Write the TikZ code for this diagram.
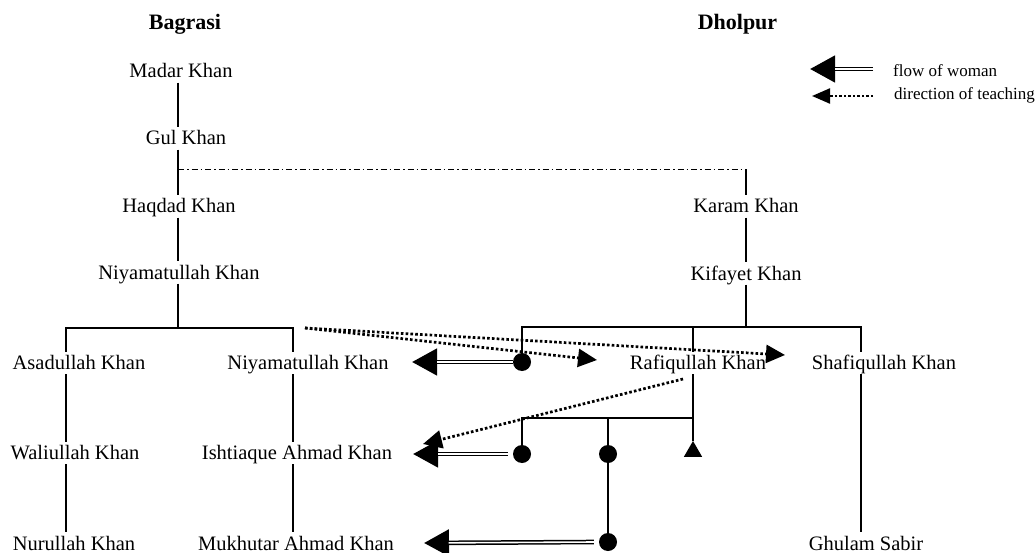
\documentclass[tikz,border=0pt]{standalone}
\usepackage{fontspec}
\setmainfont{Liberation Serif}
\usetikzlibrary{arrows.meta,shapes.geometric,calc}
\begin{document}
\begin{tikzpicture}[x=1pt,y=-1pt,
 nm/.style={anchor=base, inner sep=2.5pt, text height=15pt, text depth=2pt, font=\fontsize{20.5}{24}\selectfont},
 ttl/.style={anchor=base, inner sep=0pt, font=\fontsize{22}{26}\selectfont\bfseries},
 lg/.style={anchor=base west, inner sep=0pt, font=\fontsize{17}{20}\selectfont},
 ln/.style={line width=1.2pt},
 dashdot/.style={line width=1.2pt, dash pattern=on 6pt off 3pt on 1.5pt off 3pt},
 pdot/.style={circle, fill, inner sep=0pt, minimum size=18pt},
 ptri/.style={regular polygon, regular polygon sides=3, fill, inner sep=0pt, minimum size=21pt},
 woman/.style={line width=4.6pt, -{Triangle[length=25pt,width=26pt]}, postaction={draw=white, line width=1.6pt, -, shorten >=24.5pt}},
 teach/.style={line width=2.7pt, dash pattern=on 2.6pt off 2.2pt, -{Triangle[length=19pt,width=18pt]}},
 teachlg/.style={line width=2.2pt, dash pattern=on 2.2pt off 2.3pt, -{Triangle[length=18pt,width=15pt]}},
]
\path[use as bounding box] (0,0) rectangle (1035,553);

% titles
\node[ttl] (bag) at (185,30) {Bagrasi};
\node[ttl] (dho) at (737.5,30) {Dholpur};

% legend
\coordinate (lg1s) at (873,69);
\coordinate (lg1t) at (810,69);
\coordinate (lg2s) at (873,96);
\coordinate (lg2t) at (812,96);
\node[lg] (lgw) at (893,77) {flow of woman};
\node[lg] (lgt) at (894,100) {direction of teaching};
\draw[woman] (lg1s) -- (lg1t);
\draw[teachlg] (lg2s) -- (lg2t);

% column x positions
\coordinate (L) at (178,0);
\coordinate (A) at (66,0);
\coordinate (N) at (293,0);
\coordinate (R) at (746,0);
\coordinate (F) at (693,0);
\coordinate (S) at (861,0);

% Bagrasi side
\node[nm] (madar) at (181,78) {Madar Khan};
\node[nm] (gul) at (186,145) {Gul Khan};
\node[nm] (haq) at (179,213) {Haqdad Khan};
\node[nm] (niy) at (179,279) {Niyamatullah Khan};
\node[nm] (asad) at (79,369.5) {Asadullah Khan};
\node[nm] (niy2) at (308,369.5) {Niyamatullah Khan};
\node[nm] (wali) at (75,459.5) {Waliullah Khan};
\node[nm] (isht) at (297,459.5) {Ishtiaque Ahmad Khan};
\node[nm] (nur) at (74,550) {Nurullah Khan};
\node[nm] (mukh) at (296,550) {Mukhutar Ahmad Khan};

% Dholpur side
\node[nm] (karam) at (746,213) {Karam Khan};
\node[nm] (kif) at (746,280) {Kifayet Khan};
\node[nm] (raf) at (698,369.5) {Rafiqullah Khan};
\node[nm] (shaf) at (884,369.5) {Shafiqullah Khan};
\node[nm] (ghul) at (866,550) {Ghulam Sabir};

% symbols
\node[pdot] (d1) at (522,362) {};
\node[pdot] (d2) at (522,454) {};
\node[pdot] (d3) at (608,454) {};
\node[pdot] (d4) at (608,542) {};
\node[ptri] (t1) at (693,451.5) {};

% branch points
\coordinate (bl) at (178,328);
\coordinate (dd) at (178,169.5);
\coordinate (ddr) at (746,169.5);
\coordinate (br) at (746,327);
\coordinate (bf) at (693,418);

% Bagrasi lines
\draw[ln] (madar.south -| L) -- (gul.north -| L);
\draw[ln] (gul.south -| L) -- (haq.north -| L);
\draw[ln] (haq.south -| L) -- (niy.north -| L);
\draw[ln] (niy.south -| L) -- (bl);
\draw[ln] (asad.north -| A) |- (bl) -| (niy2.north -| N);
\draw[ln] (asad.south -| A) -- (wali.north -| A);
\draw[ln] (wali.south -| A) -- (nur.north -| A);
\draw[ln] (niy2.south -| N) -- (isht.north -| N);
\draw[ln] (isht.south -| N) -- (mukh.north -| N);

% link between families
\draw[dashdot] (dd) -- (ddr);
\draw[ln] (ddr) -- (karam.north -| R);

% Dholpur lines
\draw[ln] (karam.south -| R) -- (kif.north -| R);
\draw[ln] (kif.south -| R) -- (br);
\draw[ln] (d1.north) |- (br) -| (shaf.north -| S);
\draw[ln] (raf.north -| F) -- (br -| F);
\draw[ln] (shaf.south -| S) -- (ghul.north -| S);
\draw[ln] (raf.south -| F) -- (bf) -- (t1.north);
\draw[ln] (d2.north) |- (bf);
\draw[ln] (d3.north) -- (d3.north |- bf);
\draw[ln] (d3.south) -- (d4.north);

% flow of woman
\coordinate (w1) at (412,362);
\coordinate (w2) at (413,454);
\coordinate (w3) at (424,543);
\draw[woman] (d1.west) -- (w1);
\draw[woman] ([xshift=-5pt]d2.west) -- (w2);
\draw[woman] ([xshift=-5pt]d4.west) -- (w3);

% direction of teaching
\coordinate (ts) at (305,328);
\coordinate (tt1) at (597,360);
\coordinate (tt2) at (785,355);
\coordinate (ts3) at (683,379);
\coordinate (tt3) at (423,444);
\draw[teach] (ts) -- (tt1);
\draw[teach] (ts) -- (tt2);
\draw[teach] (ts3) -- (tt3);
\end{tikzpicture}
\end{document}
